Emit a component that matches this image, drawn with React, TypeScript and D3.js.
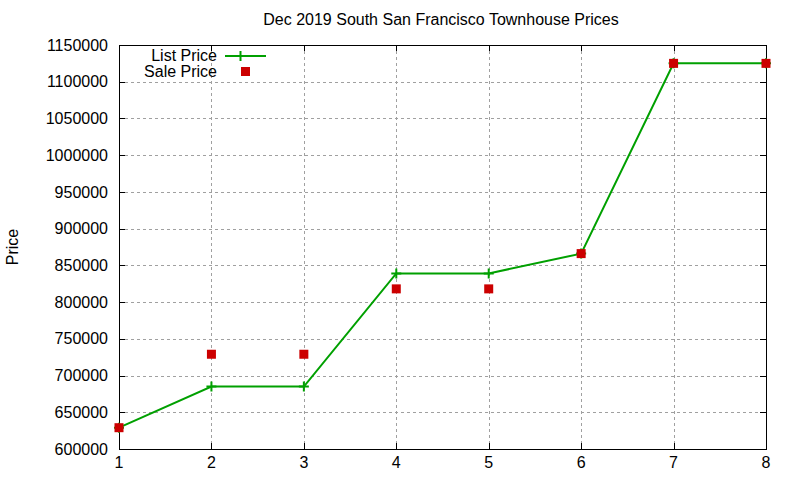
import * as d3 from "d3";
import { useEffect, useRef } from "react";

const houses = [1, 2, 3, 4, 5, 6, 7, 8];
const listPrices = [629000, 685000, 685000, 839000, 839000, 866000, 1125000, 1125000];
const salePrices = [629000, 729000, 729000, 818000, 818000, 866000, 1125000, 1125000];
const yTicks = [600000, 650000, 700000, 750000, 800000, 850000, 900000, 950000, 1000000, 1050000, 1100000, 1150000];

const App = () => {
  const svgRef = useRef<SVGSVGElement>(null);

  useEffect(() => {
    if (!svgRef.current) return;
    const svg = d3.select(svgRef.current);
    svg.selectAll("*").remove();

    const width = 800;
    const height = 480;
    const margin = { top: 45, right: 34, bottom: 31, left: 119 };
    const font = "'Liberation Sans', Arial, sans-serif";
    const fs = 16;

    const x = d3.scaleLinear().domain([1, 8]).range([margin.left, width - margin.right]);
    const y = d3.scaleLinear().domain([600000, 1150000]).range([height - margin.bottom, margin.top]);

    svg.append("rect").attr("width", width).attr("height", height).attr("fill", "#fff");

    // grid
    const grid = svg.append("g").attr("stroke", "#a0a0a0").attr("stroke-dasharray", "3,3").attr("stroke-width", 1);
    houses.forEach(h => {
      grid.append("line")
        .attr("x1", Math.round(x(h)) + 0.5).attr("x2", Math.round(x(h)) + 0.5)
        .attr("y1", margin.top).attr("y2", height - margin.bottom);
    });
    yTicks.forEach(t => {
      grid.append("line")
        .attr("y1", Math.round(y(t)) + 0.5).attr("y2", Math.round(y(t)) + 0.5)
        .attr("x1", margin.left).attr("x2", width - margin.right);
    });

    // ticks (inward, mirrored)
    const ticks = svg.append("g").attr("stroke", "#000").attr("stroke-width", 1);
    houses.forEach(h => {
      const xx = Math.round(x(h)) + 0.5;
      ticks.append("line").attr("x1", xx).attr("x2", xx).attr("y1", height - margin.bottom).attr("y2", height - margin.bottom - 6);
      ticks.append("line").attr("x1", xx).attr("x2", xx).attr("y1", margin.top).attr("y2", margin.top + 6);
    });
    yTicks.forEach(t => {
      const yy = Math.round(y(t)) + 0.5;
      ticks.append("line").attr("y1", yy).attr("y2", yy).attr("x1", margin.left).attr("x2", margin.left + 6);
      ticks.append("line").attr("y1", yy).attr("y2", yy).attr("x1", width - margin.right).attr("x2", width - margin.right - 6);
    });

    // border
    svg.append("rect")
      .attr("x", margin.left + 0.5).attr("y", margin.top + 0.5)
      .attr("width", width - margin.left - margin.right)
      .attr("height", height - margin.top - margin.bottom)
      .attr("fill", "none").attr("stroke", "#000").attr("stroke-width", 1);

    // tick labels
    svg.append("g").selectAll("text").data(yTicks).join("text")
      .attr("x", margin.left - 11).attr("y", d => y(d))
      .attr("dy", "0.35em").attr("text-anchor", "end")
      .attr("font-family", font).attr("font-size", fs).attr("fill", "#000")
      .text(d => String(d));
    svg.append("g").selectAll("text").data(houses).join("text")
      .attr("x", d => x(d)).attr("y", height - margin.bottom + 19)
      .attr("text-anchor", "middle")
      .attr("font-family", font).attr("font-size", fs).attr("fill", "#000")
      .text(d => String(d));

    // title & y label
    svg.append("text").attr("x", 441).attr("y", 25).attr("text-anchor", "middle")
      .attr("font-family", font).attr("font-size", fs).text("Dec 2019 South San Francisco Townhouse Prices");
    svg.append("text").attr("transform", `translate(18,${(margin.top + height - margin.bottom) / 2}) rotate(-90)`)
      .attr("text-anchor", "middle")
      .attr("font-family", font).attr("font-size", fs).text("Price");

    // list price line
    const line = d3.line<number>().x((_, i) => x(houses[i])).y(d => y(d));
    svg.append("path").datum(listPrices).attr("d", line)
      .attr("fill", "none").attr("stroke", "#00a000").attr("stroke-width", 2);
    svg.append("g").selectAll("path").data(listPrices).join("path")
      .attr("d", (d, i) => `M${x(houses[i]) - 5},${y(d)}h10M${x(houses[i])},${y(d) - 5}v10`)
      .attr("stroke", "#00a000").attr("stroke-width", 2);

    // sale price markers
    svg.append("g").selectAll("rect").data(salePrices).join("rect")
      .attr("x", (_, i) => x(houses[i]) - 4.5).attr("y", d => y(d) - 4.5)
      .attr("width", 9).attr("height", 9).attr("fill", "#cc0000");

    // legend
    svg.append("text").attr("x", 217).attr("y", 61).attr("text-anchor", "end")
      .attr("font-family", font).attr("font-size", fs).text("List Price");
    svg.append("line").attr("x1", 225).attr("x2", 266).attr("y1", 56).attr("y2", 56)
      .attr("stroke", "#00a000").attr("stroke-width", 2);
    svg.append("path").attr("d", "M240.5,51v10").attr("stroke", "#00a000").attr("stroke-width", 2);
    svg.append("text").attr("x", 217).attr("y", 77).attr("text-anchor", "end")
      .attr("font-family", font).attr("font-size", fs).text("Sale Price");
    svg.append("rect").attr("x", 241).attr("y", 67).attr("width", 9).attr("height", 9).attr("fill", "#cc0000");
  }, []);

  return (
    <svg ref={svgRef} width={800} height={480}
      style={{ position: "absolute", left: 0, top: 0, display: "block" }} />
  );
};

export default App;
